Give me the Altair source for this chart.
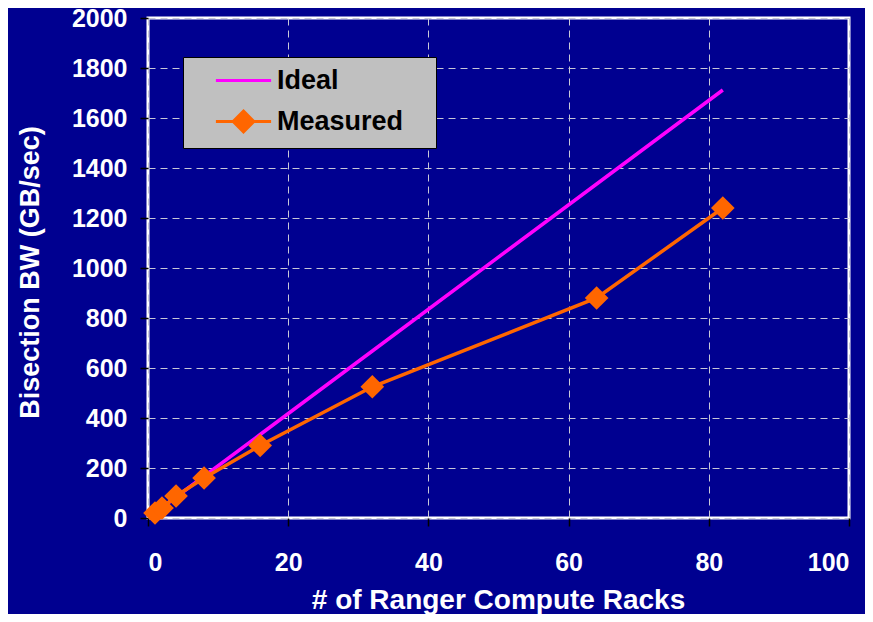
import altair as alt
import pandas as pd

# ---- data ----
racks = [1, 2, 4, 8, 16, 32, 64, 82]
ideal_bw = [21, 42, 84, 167, 334, 668, 1336, 1712]
measured_bw = [20, 40, 88, 160, 290, 525, 880, 1240]
series_names = ["Ideal", "Measured"]
series_colors = ["#FF00FF", "#FF6600"]
x_ticks = [0, 20, 40, 60, 80, 100]
y_ticks = [0, 200, 400, 600, 800, 1000, 1200, 1400, 1600, 1800, 2000]

rows = []
for r, v in zip(racks, ideal_bw):
    rows.append({"series": "Ideal", "racks": r, "bw": v})
for r, v in zip(racks, measured_bw):
    rows.append({"series": "Measured", "racks": r, "bw": v})
df = pd.DataFrame(rows)

BG = "#000090"
FONT = "Liberation Sans"

x_enc = alt.X(
    "racks:Q",
    scale=alt.Scale(domain=[0, 100], nice=False),
    axis=alt.Axis(
        values=x_ticks, format="d",
        title="# of Ranger Compute Racks",
        titleX=350, titleY=90, titleBaseline="alphabetic", titleAlign="center",
        titleFontSize=28,
        labelFontSize=25, labelPadding=24,
    ),
)
y_enc = alt.Y(
    "bw:Q",
    scale=alt.Scale(domain=[0, 2000], nice=False),
    axis=alt.Axis(
        values=y_ticks, format="d",
        title="Bisection BW (GB/sec)",
        titleX=-110, titleY=254, titleAngle=270, titleBaseline="alphabetic", titleAlign="center",
        titleFontSize=27,
        labelFontSize=25, labelPadding=13,
    ),
)

color_scale = alt.Scale(domain=series_names, range=series_colors)

ideal_line = alt.Chart(df).transform_filter(
    alt.datum.series == "Ideal"
).mark_line(strokeWidth=3.5, color=series_colors[0]).encode(x=x_enc, y=y_enc)

measured_line = alt.Chart(df).transform_filter(
    alt.datum.series == "Measured"
).mark_line(strokeWidth=3.5, color=series_colors[1]).encode(x="racks:Q", y="bw:Q")

points = alt.Chart(df).transform_filter(
    alt.datum.series == "Measured"
).mark_point(shape="diamond", filled=True, size=560, opacity=1, color=series_colors[1]).encode(
    x="racks:Q", y="bw:Q"
)

# legend glyphs: a line, and a line with a (stroke-filled) diamond
diamond = "".join(
    "M0,-{r}L{r},0L0,{r}L-{r},0Z".format(r=r) for r in ["0.86", "0.66", "0.46", "0.26", "0.08"]
)
legend_paths = [
    "M-2.3,0L2.3,0",
    "M-2.3,0L2.3,0" + diamond,
]

legend_layer = alt.Chart(df).mark_point(filled=False, opacity=0).encode(
    x="racks:Q", y="bw:Q",
    color=alt.Color("series:N", scale=color_scale, legend=alt.Legend(
        title=None, orient="none", legendX=35, legendY=39,
        fillColor="#C0C0C0", strokeColor="#000000", padding=10, cornerRadius=0,
        symbolSize=576, symbolStrokeWidth=3, symbolOffset=37,
        labelOffset=20, labelFontSize=27, labelFont=FONT, labelFontWeight="bold",
        labelColor="#000000", rowPadding=11,
        labelExpr="datum.label + '\u00a0\u00a0\u00a0\u200b'",
    )),
    shape=alt.Shape("series:N", scale=alt.Scale(domain=series_names, range=legend_paths)),
)

chart = alt.layer(ideal_line, measured_line, points, legend_layer).properties(
    width=701, height=500,
    autosize=alt.AutoSizeParams(type="none"),
    padding={"left": 140, "top": 10, "right": 16, "bottom": 96},
    background=BG,
).configure_view(
    fill=BG, stroke="#FFFFFF", strokeWidth=3,
).configure_axis(
    domain=False,
    grid=True, gridColor="#C8C8D8", gridDash=[7, 5], gridWidth=1,
    ticks=True, tickColor="#000000", tickSize=8, tickWidth=1.5,
    labelColor="#FFFFFF", labelFont=FONT, labelFontWeight="bold",
    titleColor="#FFFFFF", titleFont=FONT, titleFontWeight="bold",
).configure_legend(
    labelFont=FONT, labelFontWeight="bold", labelFontSize=27, labelColor="#000000",
)

chart.save("out.html", embed_options={"renderer": "svg", "actions": False})
